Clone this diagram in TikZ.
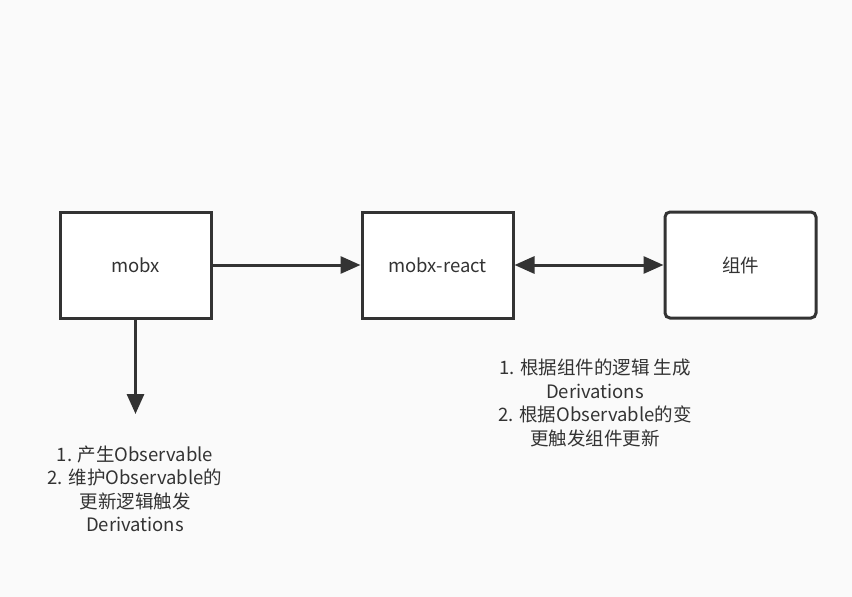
\documentclass[tikz,border=0pt]{standalone}
\usepackage{fontspec}
\setmainfont{Noto Sans CJK SC}
\usetikzlibrary{arrows.meta}
\definecolor{ink}{HTML}{333333}
\definecolor{bg}{HTML}{FAFAFA}
\tikzset{
  box/.style={draw=ink, line width=3pt, fill=white, minimum width=151pt, minimum height=106pt, inner sep=0pt, text=ink, font=\fontsize{18.5}{22}\selectfont},
  conn/.style={draw=ink, line width=3pt, -{Triangle[length=20pt,width=17pt]}},
  note/.style={text=ink, align=center, font=\fontsize{18.5}{23.5}\selectfont, inner sep=0pt}
}
\begin{document}
\begin{tikzpicture}[x=1pt,y=-1pt]
\fill[bg] (0,0) rectangle (852,597);
\useasboundingbox (0,0) rectangle (852,597);
\node[box] (mobx) at (135.5,265) {mobx};
\node[box] (react) at (437.5,265) {mobx-react};
\node[box, rounded corners=5pt] (comp) at (740.5,265) {组件};
\coordinate (down) at (135.5,414);
\draw[conn] (mobx) -- (react);
\draw[conn, {Triangle[length=20pt,width=17pt]}-{Triangle[length=20pt,width=17pt]}] (react) -- (comp);
\draw[conn] (mobx.south) -- (down);
\node[note] (n1) at (135,489) {1. 产生Observable\\2. 维护Observable的\\更新逻辑触发\\Derivations};
\node[note] (n2) at (595,403) {1. 根据组件的逻辑 生成\\Derivations\\2. 根据Observable的变\\更触发组件更新};
\end{tikzpicture}
\end{document}
